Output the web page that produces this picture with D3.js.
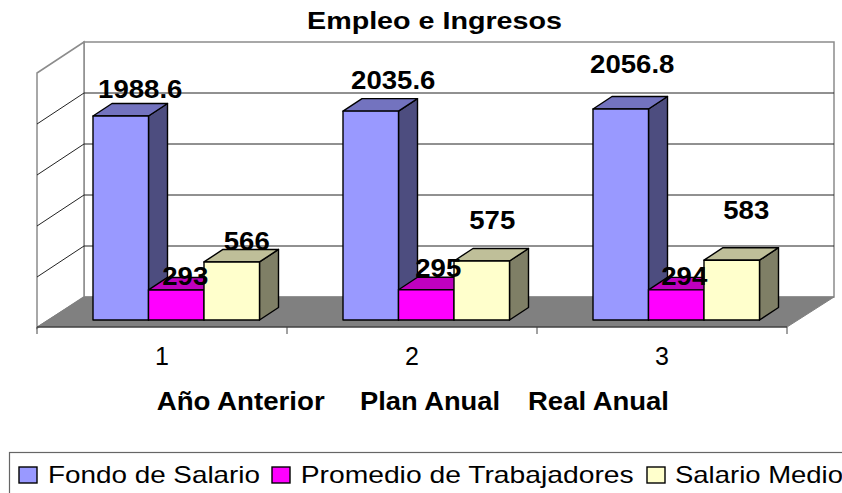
<!DOCTYPE html>
<html><head><meta charset="utf-8">
<script src="https://cdn.jsdelivr.net/npm/d3@7/dist/d3.min.js"></script>
<style>html,body{margin:0;padding:0;background:#fff;overflow:hidden}svg{display:block}text{font-family:"Liberation Sans",Arial,sans-serif;fill:#000}</style>
</head><body><svg id="c" width="842" height="493"></svg>
<script>
const categories = ["1","2","3"];
const seriesNames = ["Fondo de Salario","Promedio de Trabajadores","Salario Medio"];
const fondo = [1988.6,2035.6,2056.8];
const promedio = [293,295,294];
const salario = [566,575,583];
const periodNames = ["Año Anterior","Plan Anual","Real Anual"];
const valueTicks = [0,500,1000,1500,2000,2500];
const title = "Empleo e Ingresos";

const series = [fondo,promedio,salario];
const fills = [
 {front:"#9999FF",top:"#7373BF",side:"#4D4D7F"},
 {front:"#FF00FF",top:"#BF00BF",side:"#7F007F"},
 {front:"#FFFFCC",top:"#BFBF99",side:"#7F7F66"}];
// manual label placement, as in the source chart: [centre x offset, baseline offset] from bar front top-centre
const nudges = [
 [[19.5,-18],[22.5,-22],[11.5,-35.5]],
 [[9,-5],[12,-13],[8,-5]],
 [[15,-12],[10.5,-32],[14.5,-41]]];
// text boxes of the stretched source lettering: [x, width]
const periodBox = [[156.7,168],[360,140],[528,141]];
const legendBox = [[48,212],[300.7,333],[675,168]];
const swatchBox = [[19,18],[272,18],[647,18]];

const svg = d3.select("#c");
const floorL=37, floorR=787, depthX=47, depthY=31;
const x = d3.scaleBand().domain(categories).range([floorL,floorR]);
const backBase=297;
const yLen = d3.scaleLinear().domain([0,2500]).range([0,255]);
const barLen = d3.scaleLinear().domain([0,2500]).range([0,256.5]);
const barBase=320, barW=55.5, dX=19, dY=12.5, groupPad=56;
const poly=(pts,attrs)=>{const p=svg.append("path").attr("d",d3.line()(pts)+"Z");Object.entries(attrs).forEach(([k,v])=>p.attr(k,v));return p;};
const wall="#8c8c8c";
const stretched=(t,len)=>t.attr("textLength",len).attr("lengthAdjust","spacingAndGlyphs");
// walls
poly([[floorL+depthX,backBase-255],[floorR+depthX,backBase-255],[floorR+depthX,backBase],[floorL+depthX,backBase]],{fill:"#fff",stroke:wall,"stroke-width":1.5});
poly([[floorL,backBase-255+depthY],[floorL+depthX,backBase-255],[floorL+depthX,backBase],[floorL,backBase+depthY]],{fill:"#fff",stroke:wall,"stroke-width":1.5});
// gridlines
valueTicks.slice(1,-1).forEach(v=>{
 const y=backBase-yLen(v);
 svg.append("path").attr("d",d3.line()([[floorL,y+depthY],[floorL+depthX,y],[floorR+depthX,y]])).attr("fill","none").attr("stroke","#222").attr("stroke-width",1);
});
// floor
poly([[floorL,backBase+depthY-1],[floorL+depthX,backBase],[floorR+depthX,backBase],[floorR,backBase+depthY-1]],{fill:"#808080",stroke:"#808080","stroke-width":1});
svg.append("line").attr("x1",floorL).attr("x2",floorR).attr("y1",backBase+depthY-1).attr("y2",backBase+depthY-1).attr("stroke","#222").attr("stroke-width",1.2);
// ticks
d3.range(categories.length+1).forEach(i=>{
 const tx=floorL+i*x.bandwidth();
 svg.append("line").attr("x1",tx).attr("x2",tx).attr("y1",backBase+depthY-1).attr("y2",backBase+depthY+6).attr("stroke","#444").attr("stroke-width",1);
});
// bars
const barX=(c,s)=>x(c)+groupPad+s*barW;
const bs={stroke:"#000","stroke-width":1.4,"stroke-linejoin":"round"};
categories.forEach((c,ci)=>{
 series.forEach((vals,si)=>{
  const L=barX(c,si),R=L+barW,T=barBase-barLen(vals[ci]),B=barBase,f=fills[si];
  poly([[R,T],[R+dX,T-dY],[R+dX,B-dY],[R,B]],{fill:f.side,...bs});
  poly([[L,T],[L+dX,T-dY],[R+dX,T-dY],[R,T]],{fill:f.top,...bs});
  poly([[L,T],[R,T],[R,B],[L,B]],{fill:f.front,...bs});
 });
});
// data labels
categories.forEach((c,ci)=>{
 series.forEach((vals,si)=>{
  const n=nudges[si][ci];
  const t=svg.append("text").attr("x",barX(c,si)+barW/2+n[0]).attr("y",barBase-barLen(vals[ci])+n[1])
   .attr("text-anchor","middle").attr("font-size",26).attr("font-weight","bold").text(vals[ci]);
  stretched(t,t.node().getComputedTextLength()*1.06);
 });
});
// title
stretched(svg.append("text").attr("x",307).attr("y",28.5).attr("font-size",24.5).attr("font-weight","bold").text(title),255);
// axis labels
const ax=svg.append("g").attr("transform","translate(0,365)").call(d3.axisBottom(x).tickSize(0).tickPadding(0));
ax.select(".domain").remove();
ax.selectAll("text").attr("dy",0).attr("y",0).attr("font-size",25).style("font-family",'"Liberation Sans",Arial,sans-serif');
periodNames.forEach((t,i)=>stretched(svg.append("text").attr("x",periodBox[i][0]).attr("y",410).attr("font-size",25).attr("font-weight","bold").text(t),periodBox[i][1]));
// legend
svg.append("rect").attr("x",9.5).attr("y",452.5).attr("width",860).attr("height",60).attr("fill","none").attr("stroke","#666").attr("stroke-width",1.2);
seriesNames.forEach((t,i)=>{
 svg.append("rect").attr("x",swatchBox[i][0]).attr("y",467).attr("width",swatchBox[i][1]).attr("height",16).attr("fill",fills[i].front).attr("stroke","#000").attr("stroke-width",1.4);
 stretched(svg.append("text").attr("x",legendBox[i][0]).attr("y",483).attr("font-size",24).text(t),legendBox[i][1]);
});
</script></body></html>
